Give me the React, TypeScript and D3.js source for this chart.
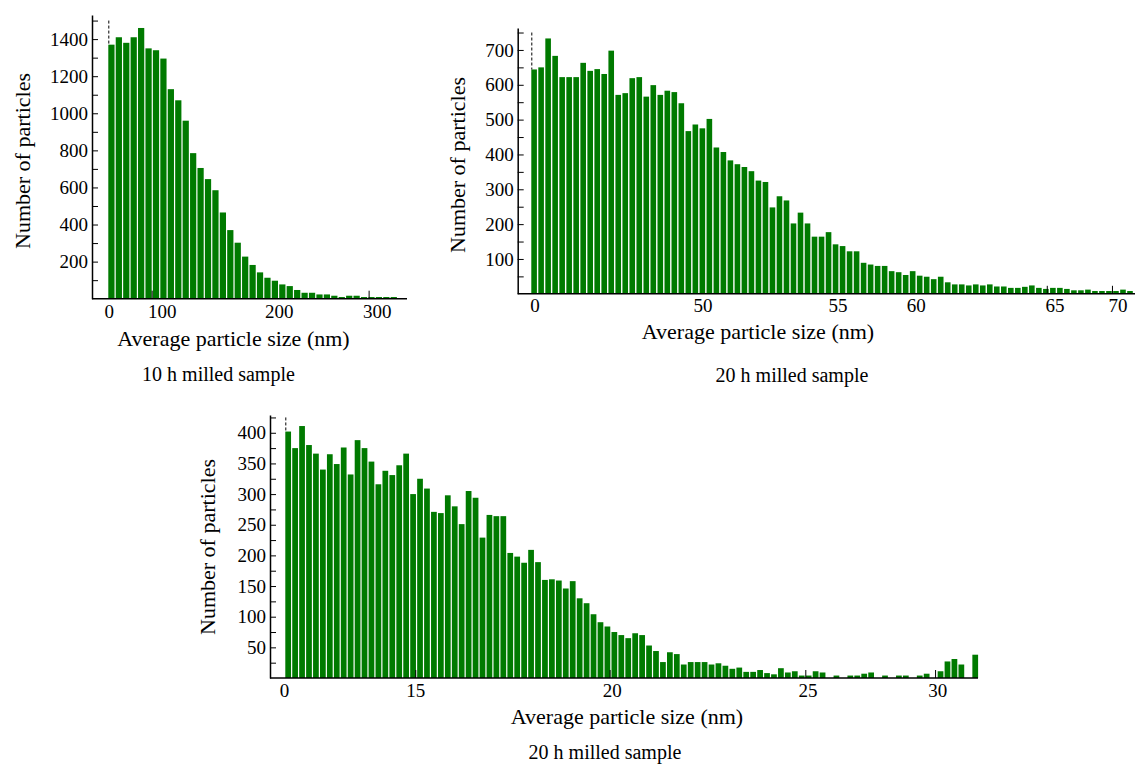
import { useEffect, useRef } from 'react';
import * as d3 from 'd3';

// particle counts per size bin
const counts10h = [
  1370, 1410, 1380, 1410, 1460, 1350, 1340, 1295, 1130, 1070, 960, 785, 705,
  645, 585, 465, 370, 302, 227, 182, 142, 113, 97, 77, 68, 47, 32, 32, 23, 23,
  16, 9, 16, 16, 9, 9, 9, 9, 9,
];
const counts20h = [
  644, 650, 733, 683, 622, 622, 622, 663, 640, 645, 631, 698, 571, 576, 619,
  622, 566, 599, 571, 583, 579, 547, 467, 486, 475, 502, 420, 407, 383, 372,
  364, 352, 325, 321, 248, 280, 268, 202, 233, 202, 164, 164, 177, 142, 137,
  122, 122, 89, 84, 80, 80, 65, 62, 54, 65, 52, 49, 42, 49, 33, 27, 27, 24, 27,
  24, 27, 21, 21, 17, 17, 20, 24, 17, 14, 17, 17, 14, 10, 10, 12, 8, 8, 8, 8,
  12, 8,
];
const counts20hFine = [
  402, 375, 411, 380, 366, 340, 365, 349, 376, 332, 388, 375, 353, 316, 338,
  331, 347, 366, 300, 325, 309, 271, 269, 298, 280, 251, 305, 294, 229, 266,
  264, 264, 204, 198, 188, 209, 189, 160, 161, 159, 146, 158, 130, 122, 104, 91,
  84, 75, 70, 65, 73, 70, 53, 44, 26, 42, 39, 22, 26, 26, 26, 22, 24, 20, 15,
  17, 10, 10, 13, 8, 6, 16, 9, 11, 4, 4, 11, 9, 0, 4, 0, 4, 4, 7, 9, 0, 4, 0, 4,
  4, 0, 4, 7, 0, 11, 27, 31, 22, 0, 38,
];

// x tick labels and where they sit, in bin units
const xLabels10h = ['0', '100', '200', '300'];
const xLabelBins10h = [0.13, 7.27, 23.0, 36.2];
const xTickBins10h = [5.9, 35.1];

const xLabels20h = ['0', '50', '55', '60', '65', '70'];
const xLabelBins20h = [0.53, 24.5, 43.75, 54.9, 74.7, 83.7];
const xTickBins20h = [73.6, 82.9];

const xLabels20hFine = ['0', '15', '20', '25', '30'];
const xLabelBins20hFine = [-0.1, 18.8, 47.1, 75.3, 94.0];
const xTickBins20hFine = [18.8, 46.8, 75.0, 93.7];

// y ticks (minor step), labels every other one
const yTicks10h = d3.range(100, 1501, 100);
const yTicks20h = d3.range(50, 751, 50);
const yTicks20hFine = d3.range(25, 426, 25);

const captions = ['10 h milled sample', '20 h milled sample', '20 h milled sample'];
const yTitle = 'Number of particles';
const xTitle = 'Average particle size (nm)';

const GREEN = '#007a00';
const FONT = '"Liberation Serif", "Times New Roman", serif';

type Panel = {
  counts: number[];
  yTicks: number[];
  yLabelEvery: number;
  xLabels: string[];
  xLabelBins: number[];
  xTickBins: number[];
  caption: string;
  axisX: number;
  axisY: number;
  top: number;
  right: number;
  barX0: number;
  barX1: number;
  yMax: number;
  gap: number;
  tickY: number;
  yTitlePos: [number, number];
  xTitlePos: [number, number];
  captionPos: [number, number];
};

const panels: Panel[] = [
  {
    counts: counts10h, yTicks: yTicks10h, yLabelEvery: 200,
    xLabels: xLabels10h, xLabelBins: xLabelBins10h, xTickBins: xTickBins10h,
    caption: captions[0],
    axisX: 92, axisY: 298.7, top: 15, right: 407, barX0: 108.3, barX1: 398.1,
    yMax: 1530, gap: 1.2, tickY: 318,
    yTitlePos: [22, 161], xTitlePos: [233.5, 346], captionPos: [218.5, 381],
  },
  {
    counts: counts20h, yTicks: yTicks20h, yLabelEvery: 100,
    xLabels: xLabels20h, xLabelBins: xLabelBins20h, xTickBins: xTickBins20h,
    caption: captions[1],
    axisX: 517.7, axisY: 293.8, top: 28, right: 1135, barX0: 531.3, barX1: 1134.2,
    yMax: 763, gap: 1.4, tickY: 312,
    yTitlePos: [457, 165], xTitlePos: [758, 339], captionPos: [792, 382],
  },
  {
    counts: counts20hFine, yTicks: yTicks20hFine, yLabelEvery: 50,
    xLabels: xLabels20hFine, xLabelBins: xLabelBins20hFine, xTickBins: xTickBins20hFine,
    caption: captions[2],
    axisX: 270, axisY: 678, top: 415, right: 978, barX0: 285.3, barX1: 979.3,
    yMax: 429, gap: 1.2, tickY: 697,
    yTitlePos: [207, 547], xTitlePos: [627, 724], captionPos: [605, 759],
  },
];

const App = () => {
  const svgRef = useRef(null);

  useEffect(() => {
    const svg = d3.select(svgRef.current);
    svg.selectAll('*').remove();

    panels.forEach((p) => {
      const g = svg.append('g');
      const x = d3.scaleLinear().domain([0, p.counts.length]).range([p.barX0, p.barX1]);
      const y = d3.scaleLinear().domain([0, p.yMax]).range([p.axisY, p.top]);

      // bars
      g.selectAll('rect')
        .data(p.counts)
        .join('rect')
        .attr('x', (_, i) => x(i))
        .attr('width', (_, i) => x(i + 1) - x(i) - p.gap)
        .attr('y', (d) => y(d))
        .attr('height', (d) => y(0) - y(d))
        .attr('fill', GREEN);

      // dashed marker above the first bin
      g.append('line')
        .attr('x1', x(0) + 0.5)
        .attr('x2', x(0) + 0.5)
        .attr('y1', y(d3.max(p.yTicks)!))
        .attr('y2', y(p.counts[0]))
        .attr('stroke', '#000')
        .attr('stroke-width', 1)
        .attr('stroke-dasharray', '3,2');

      // y axis, ticks pointing inward
      const yAxis = d3
        .axisLeft(y)
        .tickValues(p.yTicks)
        .tickSizeInner(-6)
        .tickSizeOuter(0)
        .tickPadding(4)
        .tickFormat((d) => (+d % p.yLabelEvery === 0 ? String(d) : ''));
      const ya = g.append('g').attr('transform', `translate(${p.axisX},0)`);
      // @ts-expect-error d3 typing
      ya.call(yAxis);
      ya.attr('font-family', FONT).attr('font-size', 19);
      ya.select('.domain').attr('stroke-width', 1.5);
      ya.selectAll('text').attr('fill', '#000');

      // x axis line
      g.append('line')
        .attr('x1', p.axisX)
        .attr('x2', p.right)
        .attr('y1', p.axisY)
        .attr('y2', p.axisY)
        .attr('stroke', '#000')
        .attr('stroke-width', 1.5);

      g.selectAll('line.xtick')
        .data(p.xTickBins)
        .join('line')
        .attr('class', 'xtick')
        .attr('x1', (d) => x(d))
        .attr('x2', (d) => x(d))
        .attr('y1', p.axisY)
        .attr('y2', p.axisY - 8)
        .attr('stroke', '#000')
        .attr('stroke-width', 1);

      g.selectAll('text.xlab')
        .data(p.xLabels)
        .join('text')
        .attr('class', 'xlab')
        .attr('x', (_, i) => x(p.xLabelBins[i]))
        .attr('y', p.tickY)
        .attr('text-anchor', 'middle')
        .attr('font-family', FONT)
        .attr('font-size', 19)
        .text((d) => d);

      // titles
      g.append('text')
        .attr('transform', `translate(${p.yTitlePos[0]},${p.yTitlePos[1]}) rotate(-90)`)
        .attr('text-anchor', 'middle')
        .attr('dominant-baseline', 'central')
        .attr('font-family', FONT)
        .attr('font-size', 22)
        .text(yTitle);

      g.append('text')
        .attr('x', p.xTitlePos[0])
        .attr('y', p.xTitlePos[1])
        .attr('text-anchor', 'middle')
        .attr('font-family', FONT)
        .attr('font-size', 22)
        .text(xTitle);

      g.append('text')
        .attr('x', p.captionPos[0])
        .attr('y', p.captionPos[1])
        .attr('text-anchor', 'middle')
        .attr('font-family', FONT)
        .attr('font-size', 20)
        .text(p.caption);
    });
  }, []);

  return (
    <svg
      ref={svgRef}
      width={1135}
      height={765}
      style={{ position: 'absolute', left: 0, top: 0, background: '#fff' }}
    ></svg>
  );
};

export default App;
